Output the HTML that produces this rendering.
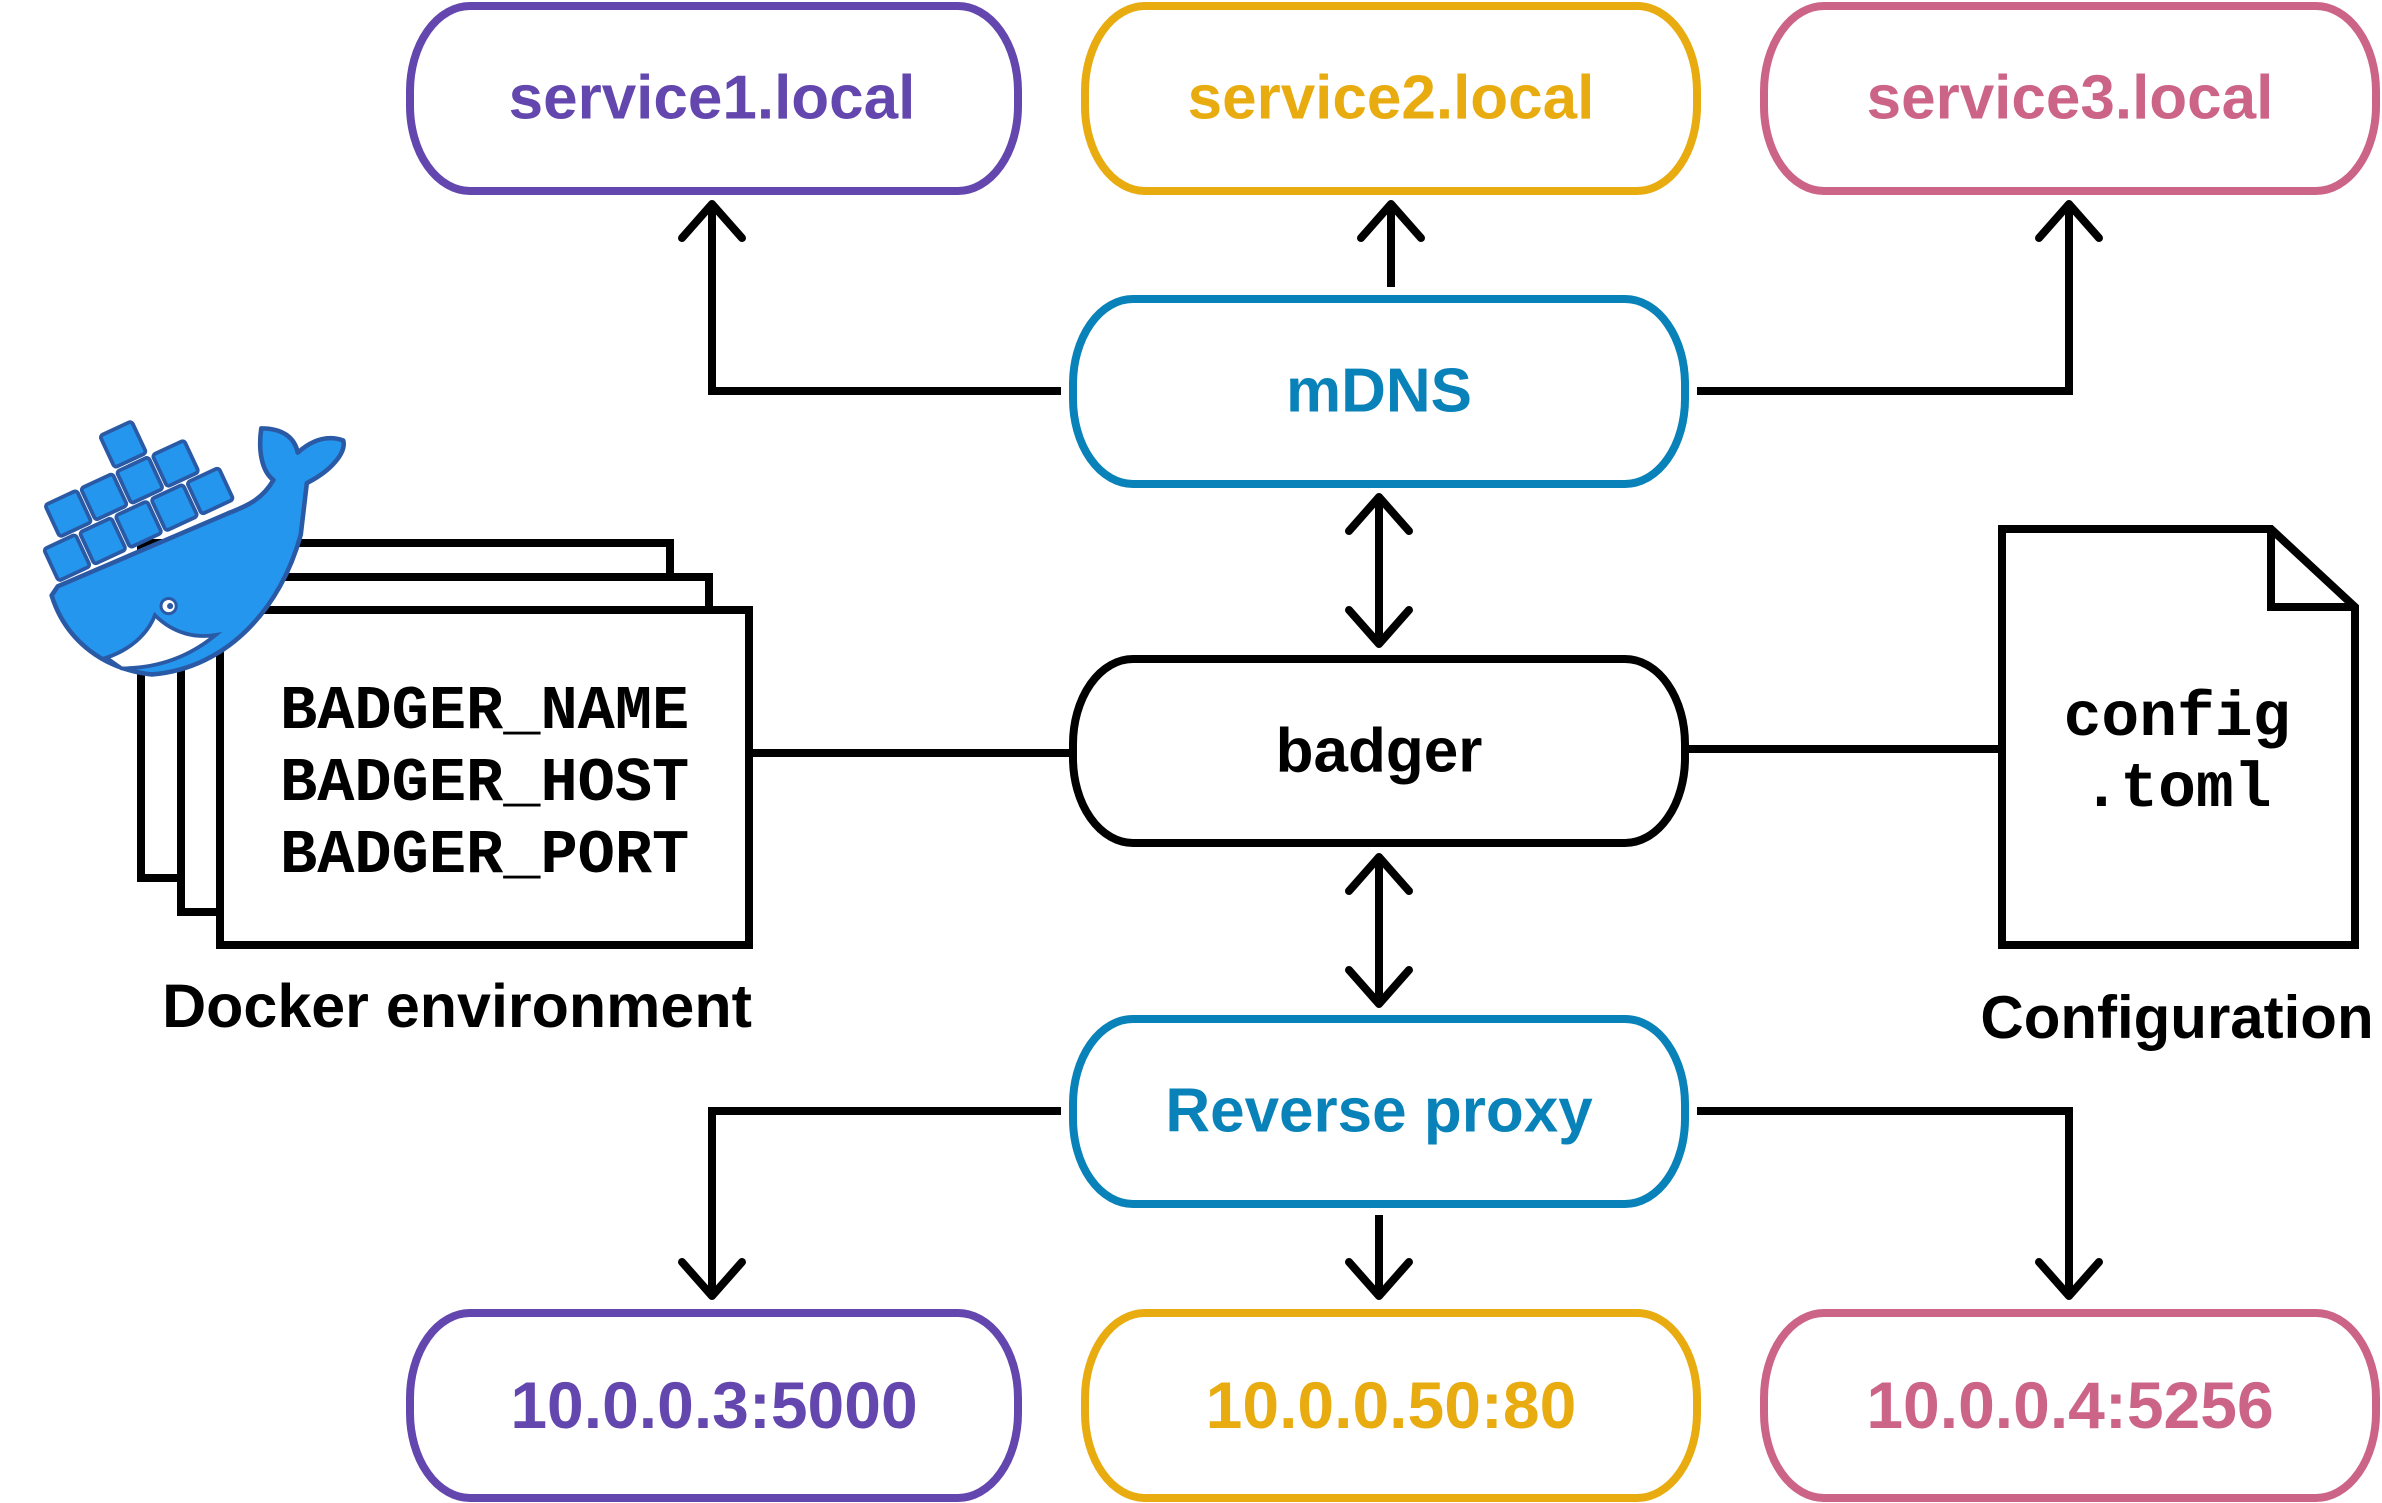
<!DOCTYPE html>
<html><head><meta charset="utf-8"><style>
html,body{margin:0;padding:0;background:#fff}
svg{display:block}
.lbl{font-family:"Liberation Sans",sans-serif;font-weight:bold;font-size:62px;text-anchor:middle;dominant-baseline:central}
.mono{font-family:"Liberation Mono",monospace;font-weight:bold}
</style></head><body>
<svg width="2382" height="1503" viewBox="0 0 2382 1503" xmlns="http://www.w3.org/2000/svg">
<defs>
<g id="chev"><polyline points="-30,34 0,0 30,34" fill="none" stroke="#000" stroke-width="8" stroke-linecap="round" stroke-linejoin="round"/></g>
</defs>
<g fill="none" stroke-width="8">
<rect x="410" y="6" width="608" height="185" rx="60" ry="85" stroke="#6347ae"/>
<rect x="1085" y="6" width="612" height="185" rx="60" ry="85" stroke="#e8ac10"/>
<rect x="1764" y="6" width="612" height="185" rx="60" ry="85" stroke="#cc6488"/>
<rect x="1073" y="299" width="612" height="185" rx="60" ry="85" stroke="#0882b8"/>
<rect x="1073" y="659" width="612" height="184" rx="60" ry="85" stroke="#000"/>
<rect x="1073" y="1019" width="612" height="185" rx="60" ry="85" stroke="#0882b8"/>
<rect x="410" y="1313" width="608" height="185" rx="60" ry="85" stroke="#6347ae"/>
<rect x="1085" y="1313" width="612" height="185" rx="60" ry="85" stroke="#e8ac10"/>
<rect x="1764" y="1313" width="612" height="185" rx="60" ry="85" stroke="#cc6488"/>
</g>
<text class="lbl" x="712" y="98" fill="#6347ae">service1.local</text>
<text class="lbl" x="1391" y="98" fill="#e8ac10">service2.local</text>
<text class="lbl" x="2070" y="98" fill="#cc6488">service3.local</text>
<text class="lbl" x="1379" y="391" fill="#0882b8">mDNS</text>
<text class="lbl" x="1379" y="751" fill="#000">badger</text>
<text class="lbl" x="1379" y="1111" fill="#0882b8">Reverse proxy</text>
<text class="lbl" x="714" y="1405" fill="#6347ae" style="font-size:66px">10.0.0.3:5000</text>
<text class="lbl" x="1391" y="1405" fill="#e8ac10" style="font-size:66px">10.0.0.50:80</text>
<text class="lbl" x="2070" y="1405" fill="#cc6488" style="font-size:66px">10.0.0.4:5256</text>

<g fill="none" stroke="#000" stroke-width="8">
<polyline points="1061,391 712,391 712,205"/>
<line x1="1391" y1="287" x2="1391" y2="205"/>
<polyline points="1697,391 2069,391 2069,205"/>
<line x1="1379" y1="497" x2="1379" y2="643"/>
<line x1="1379" y1="857" x2="1379" y2="1003"/>
<polyline points="1061,1111 712,1111 712,1295"/>
<line x1="1379" y1="1215" x2="1379" y2="1295"/>
<polyline points="1697,1111 2069,1111 2069,1295"/>
<line x1="750" y1="753" x2="1069" y2="753"/>
<line x1="1689" y1="749" x2="2002" y2="749"/>
</g>
<use href="#chev" x="712" y="204"/>
<use href="#chev" x="1391" y="204"/>
<use href="#chev" x="2069" y="204"/>
<use href="#chev" x="1379" y="497"/>
<use href="#chev" x="1379" y="857"/>
<use href="#chev" transform="translate(1379,644) scale(1,-1)"/>
<use href="#chev" transform="translate(1379,1004) scale(1,-1)"/>
<use href="#chev" transform="translate(712,1296) scale(1,-1)"/>
<use href="#chev" transform="translate(1379,1296) scale(1,-1)"/>
<use href="#chev" transform="translate(2069,1296) scale(1,-1)"/>

<g fill="#fff" stroke="#000" stroke-width="8">
<rect x="141" y="543" width="529" height="335"/>
<rect x="181" y="577" width="528" height="335"/>
<rect x="220" y="610" width="529" height="335"/>
</g>
<g class="mono" font-size="62" fill="#000">
<text x="280" y="728">BADGER_NAME</text>
<text x="280" y="800">BADGER_HOST</text>
<text x="280" y="872">BADGER_PORT</text>
</g>
<text x="457" y="1027" font-family="Liberation Sans,sans-serif" font-weight="bold" font-size="61" text-anchor="middle">Docker environment</text>

<path d="M2002,529 L2271,529 L2355,607 L2355,945 L2002,945 Z" fill="#fff" stroke="#000" stroke-width="8" stroke-linejoin="miter"/>
<polyline points="2271,529 2271,607 2355,607" fill="none" stroke="#000" stroke-width="8"/>
<text class="mono" x="2177" y="735" font-size="63" text-anchor="middle">config</text>
<text class="mono" x="2177" y="806" font-size="63" text-anchor="middle">.toml</text>
<text x="2177" y="1038" font-family="Liberation Sans,sans-serif" font-weight="bold" font-size="60" text-anchor="middle">Configuration</text>

<g transform="scale(1.519)">
<g transform="translate(38,386) rotate(-25)" fill="#2496ed" stroke="#2a5aa6" stroke-width="2.5">
<rect x="2" y="-26" width="23" height="23" rx="2"/>
<rect x="28" y="-26" width="23" height="23" rx="2"/>
<rect x="54" y="-26" width="23" height="23" rx="2"/>
<rect x="80" y="-26" width="23" height="23" rx="2"/>
<rect x="106" y="-26" width="23" height="23" rx="2"/>
<rect x="15" y="-52" width="23" height="23" rx="2"/>
<rect x="41" y="-52" width="23" height="23" rx="2"/>
<rect x="67" y="-52" width="23" height="23" rx="2"/>
<rect x="93" y="-52" width="23" height="23" rx="2"/>
<rect x="67" y="-78" width="23" height="23" rx="2"/>
</g>
<path d="M34,392 C42,418 64,440 100,444 C150,440 185,400 198,352 L202,318 C218,310 228,298 226,290 C215,286 205,290 196,298 C194,288 186,282 172,282 C170,296 172,310 180,316 C172,330 160,334 150,338 L38,386 Z" fill="#2496ed" stroke="#2a5aa6" stroke-width="3" stroke-linejoin="round"/>
<path d="M70,433 C85,428 97,418 102,405 C115,418 130,420 142,418 C125,432 105,440 80,440 Z" fill="#fff" stroke="#2a5aa6" stroke-width="2.5"/>
<circle cx="111" cy="399" r="5" fill="#fff" stroke="#2a5aa6" stroke-width="2"/>
<circle cx="112" cy="399" r="2" fill="#2a5aa6"/>
</g>
</svg>
</body></html>
